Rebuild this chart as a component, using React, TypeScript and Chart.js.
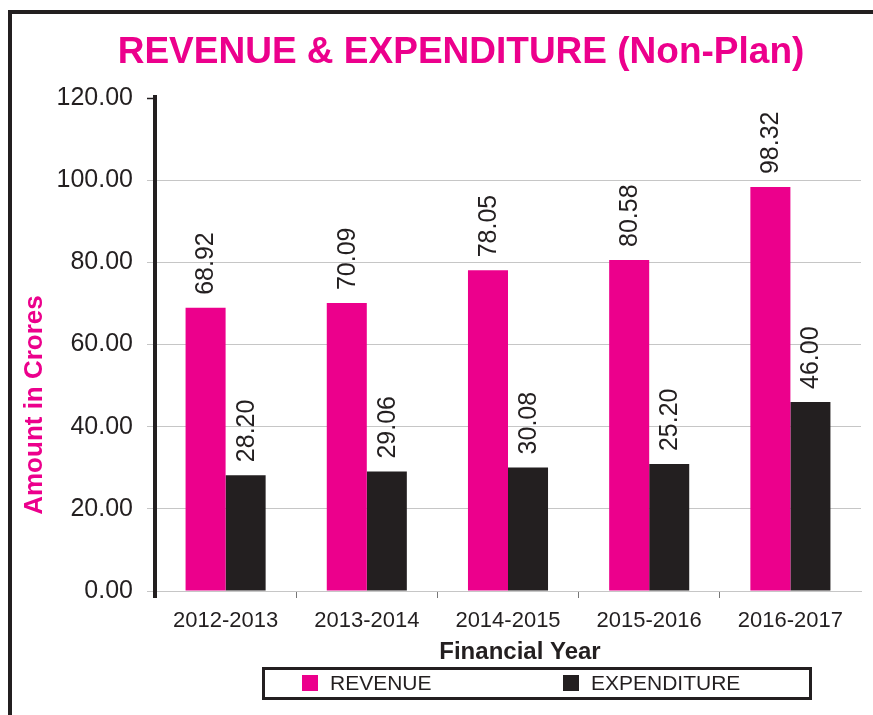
import React, { useEffect, useRef } from "react";
import { Chart, registerables } from "chart.js";

Chart.register(...registerables);

const categories = ["2012-2013", "2013-2014", "2014-2015", "2015-2016", "2016-2017"];
const revenueValues = [68.92, 70.09, 78.05, 80.58, 98.32];
const expenditureValues = [28.2, 29.06, 30.08, 30.9, 46.0];
const revenueLabels = ["68.92", "70.09", "78.05", "80.58", "98.32"];
const expenditureLabels = ["28.20", "29.06", "30.08", "25.20", "46.00"];
const seriesNames = ["REVENUE", "EXPENDITURE"];
const yMin = 0;
const yMax = 120;
const yStep = 20;

const TITLE = "REVENUE & EXPENDITURE (Non-Plan)";
const Y_TITLE = "Amount in Crores";
const X_TITLE = "Financial Year";

const PINK = "#ec008c";
const DARK = "#231f20";
const GRID = "#c6c6c6";
const FONT = '"Liberation Sans", Arial, Helvetica, sans-serif';

const valueLabels = [revenueLabels, expenditureLabels];

const overlayPlugin = {
  id: "overlay",
  afterDatasetsDraw(chart: any) {
    const ctx = chart.ctx;
    ctx.save();
    ctx.fillStyle = DARK;
    ctx.font = `25px ${FONT}`;
    ctx.textAlign = "left";
    ctx.textBaseline = "middle";
    chart.data.datasets.forEach((ds: any, di: number) => {
      const meta = chart.getDatasetMeta(di);
      meta.data.forEach((el: any, i: number) => {
        ctx.save();
        ctx.translate(el.x + 1, el.y - 13);
        ctx.rotate(-Math.PI / 2);
        ctx.fillText(valueLabels[di][i], 0, 0);
        ctx.restore();
      });
    });
    ctx.restore();
  },
  afterDraw(chart: any) {
    const ctx = chart.ctx;
    const area = chart.chartArea;
    ctx.save();
    ctx.strokeStyle = DARK;
    ctx.lineWidth = 4;
    ctx.beginPath();
    ctx.moveTo(area.left, area.top - 3);
    ctx.lineTo(area.left, area.bottom + 7);
    ctx.stroke();
    ctx.lineWidth = 1.5;
    ctx.beginPath();
    ctx.moveTo(area.left - 8, area.top + 0.5);
    ctx.lineTo(area.left, area.top + 0.5);
    ctx.stroke();

    // Title
    ctx.fillStyle = PINK;
    ctx.font = `bold 37px ${FONT}`;
    ctx.textAlign = "center";
    ctx.textBaseline = "alphabetic";
    ctx.fillText(TITLE, 449, 49);

    // Y axis title
    ctx.save();
    ctx.translate(30, 391);
    ctx.rotate(-Math.PI / 2);
    ctx.font = `bold 26px ${FONT}`;
    ctx.textAlign = "center";
    ctx.textBaseline = "alphabetic";
    ctx.fillText(Y_TITLE, 0, 0);
    ctx.restore();

    // X axis title
    ctx.fillStyle = DARK;
    ctx.font = `bold 24px ${FONT}`;
    ctx.textAlign = "center";
    ctx.fillText(X_TITLE, 508, 645);

    // Legend
    ctx.strokeStyle = DARK;
    ctx.lineWidth = 3;
    ctx.strokeRect(251.5, 654.5, 547, 30);
    const itemX = [290, 551];
    ctx.font = `21px ${FONT}`;
    ctx.textAlign = "left";
    ctx.textBaseline = "middle";
    chart.data.datasets.forEach((ds: any, di: number) => {
      ctx.fillStyle = ds.backgroundColor;
      ctx.fillRect(itemX[di], 661, 16, 16);
      ctx.fillStyle = DARK;
      ctx.fillText(ds.label, itemX[di] + 28, 670);
    });
    ctx.restore();
  },
};

export default function App() {
  const ref = useRef<HTMLCanvasElement>(null);

  useEffect(() => {
    if (!ref.current) return;
    const chart = new Chart(ref.current, {
      type: "bar",
      data: {
        labels: categories,
        datasets: [
          {
            label: seriesNames[0],
            data: revenueValues,
            backgroundColor: PINK,
            borderWidth: 0,
            categoryPercentage: 0.567,
            barPercentage: 1,
          },
          {
            label: seriesNames[1],
            data: expenditureValues,
            backgroundColor: DARK,
            borderWidth: 0,
            categoryPercentage: 0.567,
            barPercentage: 1,
          },
        ],
      },
      options: {
        responsive: false,
        animation: false,
        devicePixelRatio: 1,
        layout: { padding: { left: 0, right: 12, top: 84, bottom: 64 } },
        plugins: {
          legend: { display: false },
          title: { display: false },
          tooltip: { enabled: false },
        },
        scales: {
          x: {
            grid: {
              display: true,
              drawOnChartArea: false,
              drawTicks: true,
              tickLength: 7,
              tickColor: (c: any) =>
                c.type !== "tick" || c.index === undefined || c.index >= categories.length
                  ? "rgba(0,0,0,0)"
                  : "#777",
              offset: true,
            },
            border: { display: true, color: GRID, width: 1 },
            ticks: {
              color: DARK,
              font: { family: FONT, size: 22 },
              padding: 10,
              maxRotation: 0,
            },
            afterFit: (scale: any) => {
              scale.height = 60;
            },
          },
          y: {
            min: yMin,
            max: yMax,
            grid: {
              color: (c: any) => (c.tick && c.tick.value === yMax ? "rgba(0,0,0,0)" : GRID),
              tickColor: GRID,
              tickLength: 8,
              lineWidth: 1,
            },
            border: { display: true, color: DARK, width: 4 },
            ticks: {
              stepSize: yStep,
              color: DARK,
              font: { family: FONT, size: 25 },
              padding: 14,
              callback: (v: any) => Number(v).toFixed(2),
            },
            afterFit: (scale: any) => {
              scale.width = 143;
            },
          },
        },
      },
      plugins: [overlayPlugin],
    });
    return () => chart.destroy();
  }, []);

  return (
    <div
      style={{
        position: "fixed",
        top: 10,
        left: 8,
        right: 0,
        bottom: 0,
        borderLeft: `4px solid ${DARK}`,
        borderTop: `4px solid ${DARK}`,
        background: "#fff",
      }}
    >
      <canvas ref={ref} width={861} height={701} style={{ display: "block" }} />
    </div>
  );
}
